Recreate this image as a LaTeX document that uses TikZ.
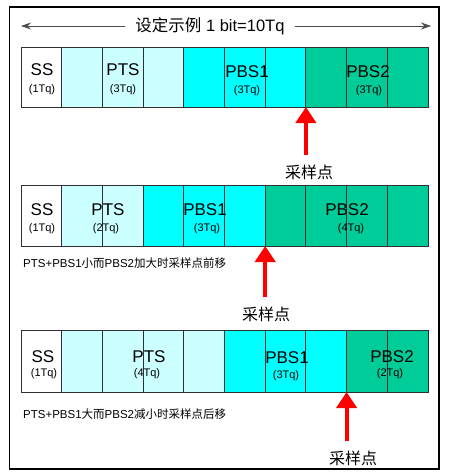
\documentclass[tikz,border=0pt]{standalone}
\usepackage{fontspec}
\setmainfont{Liberation Sans}
\newfontfamily\cjk{Noto Sans CJK SC}
\usetikzlibrary{arrows.meta}
\definecolor{ptscol}{HTML}{CCFFFF}
\definecolor{pbsacol}{HTML}{00FFFF}
\definecolor{pbsbcol}{HTML}{00CC99}
\definecolor{cellline}{HTML}{303030}
\begin{document}
\begin{tikzpicture}[x=1pt,y=-1pt,
  cell/.style={draw=cellline,line width=0.9pt},
  big/.style={font=\fontsize{17}{17}\selectfont,inner sep=0pt},
  small/.style={font=\fontsize{11}{11}\selectfont,inner sep=0pt},
  note/.style={font=\fontsize{11.5}{11.5}\selectfont,anchor=west,inner sep=0pt},
  samp/.style={font=\cjk\fontsize{16}{16}\selectfont,inner sep=1pt},
  samparrow/.style={red,line width=4pt,shorten <=8pt,-{Triangle[width=20pt,length=16pt]}},
  dimarrow/.style={draw=black!70,line width=0.8pt,-{Stealth[length=10pt,width=7pt]}}]
\useasboundingbox (0,0) rectangle (472,475);
\draw[line width=1.6pt] (9.5,7) rectangle (439,469);
\node[font=\fontsize{16.5}{16.5}\selectfont,inner xsep=10pt] (title) at (210,26) {{\cjk 设定示例} 1 bit=10Tq};
\coordinate (tl) at (21,26);
\coordinate (tr) at (431,26);
\draw[dimarrow] (title) -- (tl);
\draw[dimarrow] (title) -- (tr);
\fill[ptscol] (61.7,47) rectangle (183.8,107);
\fill[pbsacol] (183.8,47) rectangle (305.9,107);
\fill[pbsbcol] (305.9,47) rectangle (428,107);
\draw[cell] (21,47) rectangle (428,107);
\foreach \i in {1,...,9} \draw[cell] (21+40.7*\i,47) -- (21+40.7*\i,107);
\node[big] (ss1) at (42,70) {SS};
\node[small] (ss1q) at (42,90) {(1Tq)};
\node[big] (pts1) at (123,70) {PTS};
\node[small] (pts1q) at (123,90) {(3Tq)};
\node[big] (pbsa1) at (247,72) {PBS1};
\node[small] (pbsa1q) at (247,91) {(3Tq)};
\node[big] (pbsb1) at (368,72) {PBS2};
\node[small] (pbsb1q) at (369,91) {(3Tq)};
\coordinate (s1) at (305.9,107);
\node[samp] (l1) at (309,172) {采样点};
\draw[samparrow] (l1.north -| s1) -- (s1);
\fill[ptscol] (61.7,185) rectangle (143.1,246);
\fill[pbsacol] (143.1,185) rectangle (265.2,246);
\fill[pbsbcol] (265.2,185) rectangle (428,246);
\draw[cell] (21,185) rectangle (428,246);
\foreach \i in {1,...,9} \draw[cell] (21+40.7*\i,185) -- (21+40.7*\i,246);
\node[big] (ss2) at (42,210) {SS};
\node[small] (ss2q) at (42,229) {(1Tq)};
\node[big] (pts2) at (108,210) {PTS};
\node[small] (pts2q) at (106,229) {(2Tq)};
\node[big] (pbsa2) at (205,210) {PBS1};
\node[small] (pbsa2q) at (207,229) {(3Tq)};
\node[big] (pbsb2) at (347,210) {PBS2};
\node[small] (pbsb2q) at (351,229) {(4Tq)};
\node[note] (n2) at (23,263) {PTS+PBS1{\cjk 小而}PBS2{\cjk 加大时采样点前移}};
\coordinate (s2) at (265.2,246);
\node[samp] (l2) at (266,314) {采样点};
\draw[samparrow] (l2.north -| s2) -- (s2);
\fill[ptscol] (61.7,330) rectangle (224.5,392);
\fill[pbsacol] (224.5,330) rectangle (346.6,392);
\fill[pbsbcol] (346.6,330) rectangle (428,392);
\draw[cell] (21,330) rectangle (428,392);
\foreach \i in {1,...,9} \draw[cell] (21+40.7*\i,330) -- (21+40.7*\i,392);
\node[big] (ss3) at (43,357) {SS};
\node[small] (ss3q) at (44,374) {(1Tq)};
\node[big] (pts3) at (149,357) {PTS};
\node[small] (pts3q) at (147,374) {(4Tq)};
\node[big] (pbsa3) at (287,358) {PBS1};
\node[small] (pbsa3q) at (286,376) {(3Tq)};
\node[big] (pbsb3) at (392,357) {PBS2};
\node[small] (pbsb3q) at (390,374) {(2Tq)};
\node[note] (n3) at (23,414) {PTS+PBS1{\cjk 大而}PBS2{\cjk 减小时采样点后移}};
\coordinate (s3) at (346.6,392);
\node[samp] (l3) at (353,458) {采样点};
\draw[samparrow] (l3.north -| s3) -- (s3);
\end{tikzpicture}
\end{document}
